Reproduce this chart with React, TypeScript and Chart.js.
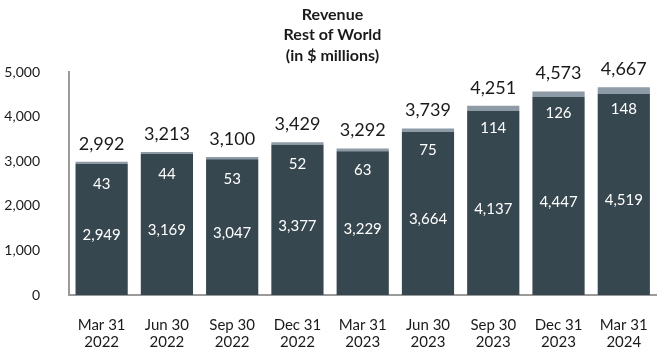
import React, { useEffect, useRef } from "react";
import { Chart, registerables } from "chart.js";

Chart.register(...registerables);

const categories: string[][] = [
  ["Mar 31", "2022"],
  ["Jun 30", "2022"],
  ["Sep 30", "2022"],
  ["Dec 31", "2022"],
  ["Mar 31", "2023"],
  ["Jun 30", "2023"],
  ["Sep 30", "2023"],
  ["Dec 31", "2023"],
  ["Mar 31", "2024"],
];
const baseValues = [2949, 3169, 3047, 3377, 3229, 3664, 4137, 4447, 4519];
const otherValues = [43, 44, 53, 52, 63, 75, 114, 126, 148];
const totalValues = [2992, 3213, 3100, 3429, 3292, 3739, 4251, 4573, 4667];
const titleLines = ["Revenue", "Rest of World", "(in $ millions)"];

const FONT = "Lato, 'Open Sans', sans-serif";
const DARK = "#37474f";
const LIGHT = "#8e9ba6";

const fmt = (v: number) => v.toLocaleString("en-US");

const labelPlugin = {
  id: "valueLabels",
  afterDatasetsDraw(chart: any) {
    const ctx = chart.ctx;
    const m0 = chart.getDatasetMeta(0);
    const m1 = chart.getDatasetMeta(1);
    ctx.save();
    ctx.textAlign = "center";
    ctx.textBaseline = "middle";
    m0.data.forEach((el: any, i: number) => {
      const top = m1.data[i];
      ctx.fillStyle = "#ffffff";
      ctx.font = `15px ${FONT}`;
      ctx.fillText(fmt(baseValues[i]), el.x, (el.y + el.base) / 2 + 6);
      ctx.fillText(fmt(otherValues[i]), el.x, top.y + 22);
      ctx.fillStyle = "#1a1a1a";
      ctx.font = `18px ${FONT}`;
      ctx.fillText(fmt(totalValues[i]), el.x, top.y - 18);
    });
    ctx.restore();
  },
};

export default function App() {
  const ref = useRef<HTMLCanvasElement | null>(null);
  useEffect(() => {
    document.body.style.margin = "0";
    const canvas = ref.current!;
    const chart = new Chart(canvas, {
      type: "bar",
      data: {
        labels: categories,
        datasets: [
          {
            label: "Base",
            data: baseValues,
            backgroundColor: DARK,
            barPercentage: 0.8,
            categoryPercentage: 1,
          },
          {
            label: "Other",
            data: otherValues,
            backgroundColor: LIGHT,
            barPercentage: 0.8,
            categoryPercentage: 1,
          },
        ],
      },
      options: {
        responsive: false,
        animation: false,
        layout: { padding: { left: 0, right: 5, top: 0, bottom: 0 } },
        plugins: {
          legend: { display: false },
          tooltip: { enabled: false },
          title: {
            display: true,
            text: titleLines,
            color: "#1a1a1a",
            font: { family: FONT, size: 16, weight: "bold", lineHeight: 1.3 },
            padding: { top: 4, bottom: 6 },
          },
        },
        scales: {
          x: {
            stacked: true,
            grid: { display: false, drawTicks: false },
            border: { display: true, color: "#9a9a9a", width: 2 },
            ticks: {
              color: "#1a1a1a",
              font: { family: FONT, size: 15, lineHeight: 1.1 },
              padding: 22,
              maxRotation: 0,
              autoSkip: false,
            },
            afterFit(scale: any) {
              scale.height = 57;
            },
          },
          y: {
            stacked: true,
            min: 0,
            max: 5000,
            grid: { display: false, drawTicks: false },
            border: { display: true, color: "#9a9a9a", width: 2 },
            ticks: {
              stepSize: 1000,
              color: "#1a1a1a",
              font: { family: FONT, size: 14 },
              padding: 29,
              callback: (v: any) => fmt(Number(v)),
            },
            afterFit(scale: any) {
              scale.width = 69;
            },
          },
        },
      },
      plugins: [labelPlugin],
    });
    return () => chart.destroy();
  }, []);
  return (
    <div style={{ position: "absolute", left: 0, top: 0, width: 670, height: 352 }}>
      <canvas ref={ref} width={670} height={352} style={{ width: 670, height: 352 }} />
    </div>
  );
}
